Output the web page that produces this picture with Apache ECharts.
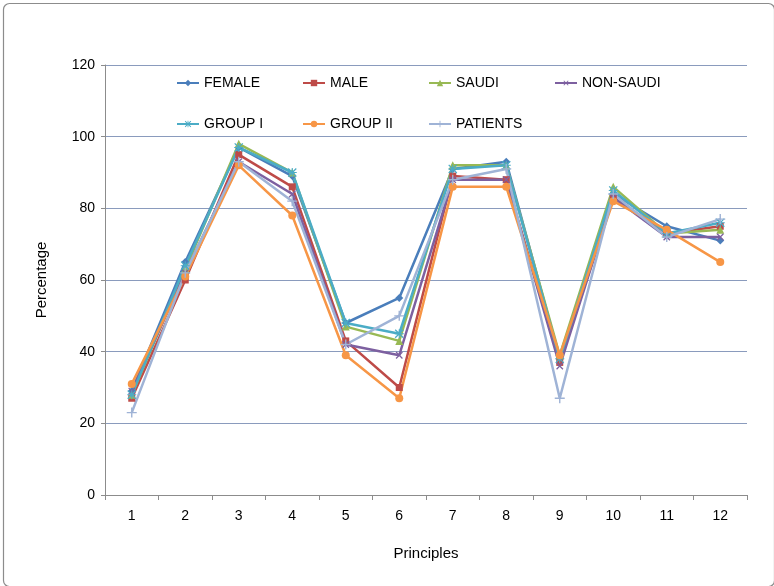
<!DOCTYPE html>
<html>
<head>
<meta charset="utf-8">
<script src="https://cdn.jsdelivr.net/npm/echarts@6/dist/echarts.min.js"></script>
<style>html,body{margin:0;padding:0;background:#fff;}#c{width:774px;height:586px;}</style>
</head>
<body>
<div id="c"></div>
<script>
const categories = ['1','2','3','4','5','6','7','8','9','10','11','12'];
const yTicks = [0, 20, 40, 60, 80, 100, 120];
const female   = [29, 65, 97, 89, 48, 55, 91, 93, 38, 84, 75, 71];
const male     = [27, 60, 95, 86, 43, 30, 89, 88, 37, 83, 73, 75];
const saudi    = [28, 63, 98, 90, 47, 43, 92, 92, 39, 86, 73, 74];
const nonSaudi = [29, 62, 93, 84, 42, 39, 88, 88, 36, 83, 72, 72];
const groupI   = [28, 64, 97, 90, 48, 45, 91, 92, 38, 85, 73, 76];
const groupII  = [31, 61, 92, 78, 39, 27, 86, 86, 39, 82, 74, 65];
const patients = [23, 62, 93, 82, 42, 50, 88, 91, 27, 84, 72, 77];
const seriesNames = ['FEMALE', 'MALE', 'SAUDI', 'NON-SAUDI', 'GROUP I', 'GROUP II', 'PATIENTS'];

const PLUS = 'path://M4.3,0H5.7V10H4.3Z M0,4.3H10V5.7H0Z';
const STAR = 'path://M0,1L1,0L10,9L9,10Z M9,0L10,1L1,10L0,9Z M4.4,0H5.6V10H4.4Z M0,4.4H10V5.6H0Z';

const font = "'Liberation Sans', Arial, sans-serif";
function s(name, data, color, symbol, size, rot) {
  return {
    name: name, type: 'line', data: data,
    symbol: symbol, symbolSize: size, symbolRotate: rot || 0,
    showAllSymbol: true,
    lineStyle: { width: 2.5, color: color },
    itemStyle: { color: color },
    emphasis: { disabled: true },
    animation: false
  };
}
const legendPos = [[176, 76], [302, 76], [428, 76], [554, 76], [176, 117], [302, 117], [428, 117]];
const legends = seriesNames.map(function (n, i) {
  return {
    data: [n], left: legendPos[i][0], top: legendPos[i][1],
    itemWidth: 22, itemHeight: 8, padding: 0,
    textStyle: { fontFamily: font, fontSize: 14, color: '#000' },
    selectedMode: false
  };
});
const chart = echarts.init(document.getElementById('c'), null, { renderer: 'canvas' });
chart.setOption({
  backgroundColor: '#fff',
  animation: false,
  graphic: [{
    type: 'rect', left: 1, top: 1, silent: true,
    shape: { width: 771, height: 583, r: 6 },
    style: { fill: 'none', stroke: '#8c8c8c', lineWidth: 1.2 }
  }],
  legend: legends,
  grid: { left: 105, right: 27, top: 65, bottom: 91 },
  xAxis: {
    type: 'category', data: categories, boundaryGap: true,
    name: 'Principles', nameLocation: 'middle', nameGap: 51,
    nameTextStyle: { fontFamily: font, fontSize: 15, color: '#000' },
    axisLine: { lineStyle: { color: '#8c8c8c', width: 1 } },
    axisTick: { show: true, length: 5, alignWithLabel: false, lineStyle: { color: '#8c8c8c' } },
    axisLabel: { fontFamily: font, fontSize: 14, color: '#000', margin: 14 }
  },
  yAxis: {
    type: 'value', min: yTicks[0], max: yTicks[yTicks.length - 1], interval: 20,
    name: 'Percentage', nameLocation: 'middle', nameGap: 56, nameRotate: 90,
    nameTextStyle: { fontFamily: font, fontSize: 15, color: '#000' },
    axisLine: { show: true, lineStyle: { color: '#8c8c8c', width: 1 } },
    axisTick: { show: true, length: 4, lineStyle: { color: '#8c8c8c' } },
    axisLabel: { fontFamily: font, fontSize: 14, color: '#000', margin: 10 },
    splitLine: { show: true, lineStyle: { color: '#8a9bbd', width: 1.2 } }
  },
  series: [
    s('FEMALE', female, '#4A7EBB', 'diamond', 8),
    s('MALE', male, '#BE4B48', 'rect', 7),
    s('SAUDI', saudi, '#98B954', 'triangle', 8),
    s('NON-SAUDI', nonSaudi, '#7D60A0', PLUS, 9, 45),
    s('GROUP I', groupI, '#4BACC6', STAR, 9),
    s('GROUP II', groupII, '#F79646', 'circle', 8),
    s('PATIENTS', patients, '#9FB3D6', PLUS, 10)
  ]
});
</script>
</body>
</html>
